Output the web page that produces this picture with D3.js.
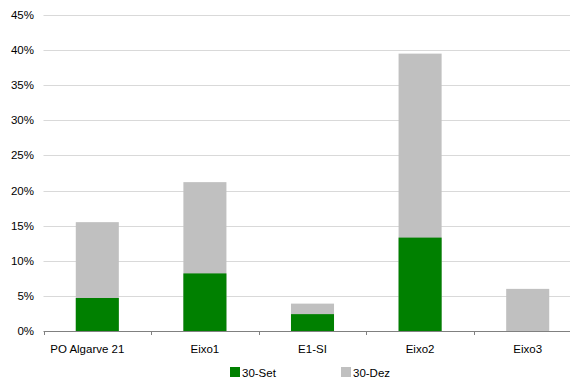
<!DOCTYPE html>
<meta charset="utf-8">
<title>Execução por eixo</title>
<script src="https://d3js.org/d3.v7.min.js"></script>
<style>
    body { margin: 0; background: #fff; }
    svg text { font-family: "Liberation Sans", Arial, sans-serif; font-size: 11.5px; fill: #000; }
</style>
<body>
<script>
    // categories and series (percent values)
    let categories = ["PO Algarve 21", "Eixo1", "E1-SI", "Eixo2", "Eixo3"];
    let set30 = [4.7, 8.2, 2.4, 13.3, 0];      // 30-Set
    let dez30 = [15.5, 21.2, 3.9, 39.5, 6.0];  // 30-Dez (total at year end)
    let yTicks = [0, 5, 10, 15, 20, 25, 30, 35, 40, 45];
    let seriesNames = ["30-Set", "30-Dez"];
    let seriesColors = ["#008000", "#c0c0c0"];

    var W = 570, H = 379;
    var plotLeft = 43.5, plotTop = 15, plotBottom = 331;
    var bandW = 107.6;

    var svg = d3.select("body").append("svg").attr("width", W).attr("height", H);

    var x = d3.scaleBand().domain(categories)
        .range([plotLeft, plotLeft + bandW * categories.length])
        .paddingInner(0.6).paddingOuter(0.3);
    var y = d3.scaleLinear().domain([0, 45]).range([plotBottom, plotTop]);

    // gridlines
    svg.append("g").selectAll("line")
        .data(yTicks.filter(d => d > 0))
        .enter().append("line")
        .attr("x1", plotLeft).attr("x2", W)
        .attr("y1", d => Math.round(y(d)) + 0.5).attr("y2", d => Math.round(y(d)) + 0.5)
        .attr("stroke", "#d9d9d9").attr("stroke-width", 1);

    // y labels
    svg.append("g").selectAll("text")
        .data(yTicks)
        .enter().append("text")
        .attr("x", 34).attr("y", d => y(d) + 4)
        .attr("text-anchor", "end")
        .text(d => d + "%");

    // bars: year end behind, 30-Set in front
    svg.append("g").selectAll("rect")
        .data(dez30)
        .enter().append("rect")
        .attr("x", (d, i) => x(categories[i]))
        .attr("width", x.bandwidth())
        .attr("y", d => y(d)).attr("height", d => y(0) - y(d))
        .attr("fill", seriesColors[1]);

    svg.append("g").selectAll("rect")
        .data(set30)
        .enter().append("rect")
        .attr("x", (d, i) => x(categories[i]))
        .attr("width", x.bandwidth())
        .attr("y", d => y(d)).attr("height", d => y(0) - y(d))
        .attr("fill", seriesColors[0]);

    // x axis
    var ax = svg.append("g").attr("stroke", "#808080");
    ax.append("line")
        .attr("x1", plotLeft).attr("x2", W)
        .attr("y1", plotBottom + 0.5).attr("y2", plotBottom + 0.5);
    ax.selectAll(".tk")
        .data(d3.range(categories.length + 1))
        .enter().append("line")
        .attr("x1", i => Math.round(plotLeft + i * bandW) + 0.5)
        .attr("x2", i => Math.round(plotLeft + i * bandW) + 0.5)
        .attr("y1", plotBottom).attr("y2", plotBottom + 4);

    // first label sits a bit left of its band centre in the original
    svg.append("g").selectAll("text")
        .data(categories)
        .enter().append("text")
        .attr("x", (d, i) => x(d) + x.bandwidth() / 2 + (i == 0 ? -10 : 0))
        .attr("y", 353)
        .attr("text-anchor", "middle")
        .text(d => d);

    // legend
    var leg = svg.append("g").selectAll("g")
        .data(seriesNames)
        .enter().append("g")
        .attr("transform", (d, i) => "translate(" + (230 + i * 111) + ",367)");
    leg.append("rect").attr("width", 10).attr("height", 10)
        .attr("fill", (d, i) => seriesColors[i]);
    leg.append("text").attr("x", 12).attr("y", 9.5).text(d => d);
</script>
</body>
